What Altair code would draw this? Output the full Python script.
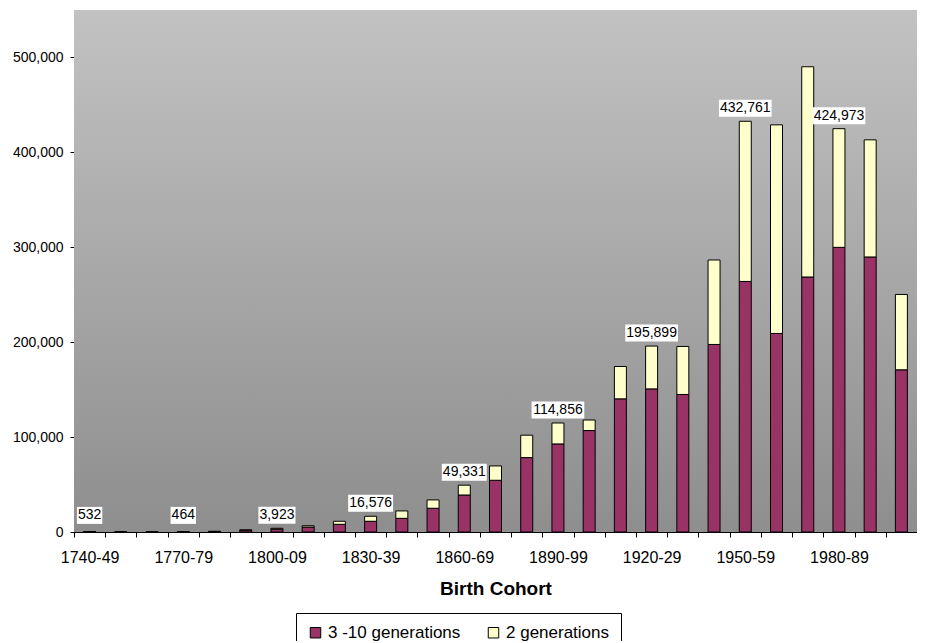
import json
import altair as alt
import pandas as pd

# ---------------- data ----------------
cohorts = [
    "1740-49", "1750-59", "1760-69", "1770-79", "1780-89", "1790-99",
    "1800-09", "1810-19", "1820-29", "1830-39", "1840-49", "1850-59",
    "1860-69", "1870-79", "1880-89", "1890-99", "1900-09", "1910-19",
    "1920-29", "1930-39", "1940-49", "1950-59", "1960-69", "1970-79",
    "1980-89", "1990-99", "2000-09",
]
gen_3_10 = [
    400, 200, 150, 350, 550, 1800,
    3000, 5200, 8100, 11300, 14400, 25000,
    39000, 54500, 78400, 92800, 106900, 140300,
    150800, 144900, 197600, 264000, 209200, 268700,
    299900, 289800, 170900,
]
gen_2 = [
    132, 50, 50, 114, 150, 500,
    923, 1400, 3200, 5276, 7800, 8800,
    10331, 15100, 23600, 22056, 11100, 34100,
    45099, 50600, 89000, 168761, 219800, 221500,
    125073, 123400, 79400,
]
series_names = ["3 -10 generations", "2 generations"]
series_colors = ["#993366", "#FFFFCC"]
labelled = ["1740-49", "1770-79", "1800-09", "1830-39", "1860-69",
            "1890-99", "1920-29", "1950-59", "1980-89"]
y_ticks = [0, 100000, 200000, 300000, 400000, 500000]

# ---------------- tables built from the arrays ----------------
rows = []
for c, a, b in zip(cohorts, gen_3_10, gen_2):
    rows.append({"cohort": c, "series": series_names[0], "value": a, "ord": 0})
    rows.append({"cohort": c, "series": series_names[1], "value": b, "ord": 1})
long_df = pd.DataFrame(rows)

tot_df = pd.DataFrame({
    "cohort": cohorts,
    "total": [a + b for a, b in zip(gen_3_10, gen_2)],
})
tot_df = tot_df[tot_df["cohort"].isin(labelled)]

W, H = 843, 522
FONT = "Liberation Sans"

label_expr = "indexof(%s, datum.value) >= 0 ? datum.label : ''" % json.dumps(labelled)

x_axis = alt.Axis(
    title="Birth Cohort", labelExpr=label_expr, labelAngle=0, labelOverlap=False,
    tickBand="extent", tickSize=5, tickColor="black", domainColor="black",
    labelFontSize=16, labelColor="black", labelPadding=12,
    titleFontSize=19, titleFontWeight="bold", titleColor="black", titlePadding=14,
)
y_axis = alt.Axis(
    title=None, values=y_ticks, labelExpr="format(datum.value, ',')", grid=False,
    tickSize=4, tickColor="black", domainColor="black", labelFontSize=14,
    labelColor="black", labelPadding=7,
)


def xenc():
    return alt.X("cohort:N", sort=cohorts, axis=x_axis,
                 scale=alt.Scale(paddingInner=0, paddingOuter=0))


def yenc(field, stack=None):
    kw = {}
    if stack is not None:
        kw["stack"] = stack
    return alt.Y(field, scale=alt.Scale(domain=[0, 550000], nice=False),
                 axis=y_axis, **kw)


background = alt.Chart(alt.Data(values=[{}])).mark_rect(
    fill=alt.Gradient(
        gradient="linear",
        stops=[alt.GradientStop(color="#c2c2c2", offset=0),
               alt.GradientStop(color="#8e8e8e", offset=1)],
        x1=0, x2=0, y1=0, y2=1,
    )
).encode(x=alt.value(0), x2=alt.value(W), y=alt.value(0), y2=alt.value(H))

bars = alt.Chart(long_df).mark_bar(size=12, stroke="black", strokeWidth=1).encode(
    x=xenc(),
    y=yenc("value:Q", stack="zero"),
    color=alt.Color(
        "series:N",
        scale=alt.Scale(domain=series_names, range=series_colors),
        legend=alt.Legend(
            title=None, orient="none", legendX=222, legendY=603,
            direction="horizontal", symbolType="square", symbolSize=110,
            symbolStrokeColor="black", symbolStrokeWidth=1, symbolOpacity=1,
            labelFontSize=17, labelColor="black", labelOffset=4, labelLimit=0,
            padding=11, columnPadding=24, strokeColor="black", fillColor="white",
        ),
    ),
    order=alt.Order("ord:Q"),
)

label_base = alt.Chart(tot_df).transform_calculate(
    ypos="max(datum.total, 3800)",
    txt="format(datum.total, ',')",
).transform_calculate(
    bw="(length(replace(datum.txt, ',', ''))) * 7.8 + (indexof(datum.txt, ',') >= 0 ? 3.9 : 0) + 2",
)

boxes = label_base.mark_tick(color="white", thickness=17, opacity=1, yOffset=-13).encode(
    x=xenc(),
    y=yenc("ypos:Q"),
    size=alt.Size("bw:Q", scale=None, legend=None),
)

texts = label_base.mark_text(fontSize=14, dy=-13, baseline="middle",
                             align="center", color="black").encode(
    x=xenc(),
    y=yenc("ypos:Q"),
    text=alt.Text("txt:N"),
)

chart = alt.layer(background, bars, boxes, texts).properties(
    width=W, height=H,
    autosize=alt.AutoSizeParams(type="none"),
    padding={"left": 66, "top": 2, "right": 0, "bottom": 109},
).configure(font=FONT).configure_view(stroke="#808080", strokeWidth=1)

chart.save("out.html", embed_options={"renderer": "svg", "actions": False})
